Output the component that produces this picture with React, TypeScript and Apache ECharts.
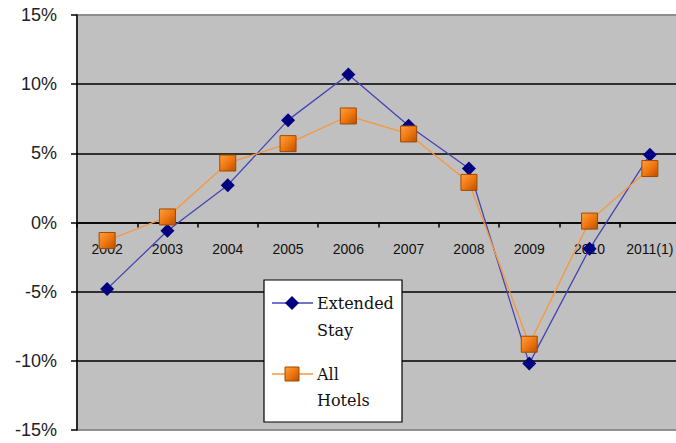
import React, { useEffect, useRef } from "react";
import * as echarts from "echarts";

const categories = ["2002", "2003", "2004", "2005", "2006", "2007", "2008", "2009", "2010", "2011(1)"];
const extendedStay = [-4.8, -0.6, 2.7, 7.4, 10.7, 7.0, 3.9, -10.2, -1.9, 4.9];
const allHotels = [-1.3, 0.4, 4.3, 5.7, 7.7, 6.4, 2.9, -8.8, 0.1, 3.9];
const yTicks = { min: -15, max: 15, interval: 5 };
const seriesNames = ["Extended Stay", "All Hotels"];

const BLUE_LINE = "#4444b4";
const NAVY = "#000080";
const ORANGE_LINE = "#f7963a";
const squareFill = {
  type: "linear" as const,
  x: 0,
  y: 0,
  x2: 1,
  y2: 1,
  colorStops: [
    { offset: 0, color: "#ffa040" },
    { offset: 0.5, color: "#f07810" },
    { offset: 1, color: "#b85000" },
  ],
};

const GRID_TOP = 15;
const GRID_HEIGHT = 415;

export default function App() {
  const ref = useRef<HTMLDivElement>(null);
  useEffect(() => {
    if (!ref.current) return;
    const chart = echarts.init(ref.current, null, { renderer: "svg" });
    const serif = "DejaVu Serif";
    // place the category axis on the 0% line (centre of a symmetric range)
    const zeroOffset = -GRID_HEIGHT * (0 - yTicks.min) / (yTicks.max - yTicks.min);
    chart.setOption({
      animation: false,
      backgroundColor: "#ffffff",
      grid: {
        left: 77,
        top: GRID_TOP,
        width: 603,
        height: GRID_HEIGHT,
        show: true,
        containLabel: false,
        outerBoundsMode: "none",
        backgroundColor: "#c0c0c0",
        borderColor: "#8a8a8a",
        borderWidth: 1.5,
      },
      xAxis: {
        type: "category",
        data: categories,
        boundaryGap: true,
        position: "bottom",
        offset: zeroOffset,
        axisLine: { onZero: false, lineStyle: { color: "#000", width: 1.5 } },
        axisTick: { show: true, inside: false, length: 5, lineStyle: { color: "#000", width: 1.5 } },
        axisLabel: {
          margin: 19,
          fontSize: 14,
          fontFamily: "Liberation Sans, Arial, sans-serif",
          color: "#111",
          interval: 0,
        },
        splitLine: { show: false },
      },
      yAxis: {
        type: "value",
        min: yTicks.min,
        max: yTicks.max,
        interval: yTicks.interval,
        axisLine: { show: true, onZero: false, lineStyle: { color: "#000", width: 1.5 } },
        axisTick: { show: true, inside: false, length: 6, lineStyle: { color: "#000", width: 1.5 } },
        axisLabel: {
          formatter: "{value}%",
          margin: 20,
          fontSize: 18,
          fontFamily: "Liberation Sans, Arial, sans-serif",
          color: "#222",
        },
        splitLine: {
          show: true,
          lineStyle: {
            color: ["#8a8a8a", "#000", "#000", "#000", "#000", "#000", "#8a8a8a"],
            width: 1.5,
          },
        },
      },
      series: [
        {
          name: seriesNames[0],
          type: "line",
          data: extendedStay,
          symbol: "diamond",
          symbolSize: [14, 14],
          lineStyle: { color: BLUE_LINE, width: 1.3 },
          itemStyle: { color: NAVY },
          z: 2,
        },
        {
          name: seriesNames[1],
          type: "line",
          data: allHotels,
          symbol: "rect",
          symbolSize: 16,
          lineStyle: { color: ORANGE_LINE, width: 1.3 },
          itemStyle: { color: squareFill, borderColor: "#a04800", borderWidth: 1 },
          z: 3,
        },
      ],
      graphic: [
        {
          type: "group",
          x: 264,
          y: 280,
          z: 100,
          children: [
            {
              type: "rect",
              z: 100,
              shape: { x: 0, y: 0, width: 138, height: 142 },
              style: { fill: "#fff", stroke: "#000", lineWidth: 1.2 },
            },
            {
              type: "line",
              z: 101,
              shape: { x1: 8, y1: 23, x2: 49, y2: 23 },
              style: { stroke: BLUE_LINE, lineWidth: 1.5 },
            },
            {
              type: "polygon",
              z: 102,
              shape: { points: [[28, 16], [35, 23], [28, 30], [21, 23]] },
              style: { fill: NAVY },
            },
            {
              type: "text",
              z: 101,
              x: 53,
              y: 23,
              style: { text: "Extended", font: `16px "${serif}"`, fill: "#111", verticalAlign: "middle" },
            },
            {
              type: "text",
              z: 101,
              x: 53,
              y: 50,
              style: { text: "Stay", font: `16px "${serif}"`, fill: "#111", verticalAlign: "middle" },
            },
            {
              type: "line",
              z: 101,
              shape: { x1: 8, y1: 94, x2: 49, y2: 94 },
              style: { stroke: ORANGE_LINE, lineWidth: 1.5 },
            },
            {
              type: "rect",
              z: 102,
              shape: { x: 21, y: 87, width: 14, height: 14 },
              style: { fill: squareFill, stroke: "#a04800", lineWidth: 1 },
            },
            {
              type: "text",
              z: 101,
              x: 53,
              y: 94,
              style: { text: "All", font: `16px "${serif}"`, fill: "#111", verticalAlign: "middle" },
            },
            {
              type: "text",
              z: 101,
              x: 53,
              y: 120,
              style: { text: "Hotels", font: `16px "${serif}"`, fill: "#111", verticalAlign: "middle" },
            },
          ],
        },
      ],
    });
    return () => chart.dispose();
  }, []);
  return (
    <div
      ref={ref}
      style={{ position: "absolute", left: 0, top: 0, width: 676, height: 443 }}
    />
  );
}
